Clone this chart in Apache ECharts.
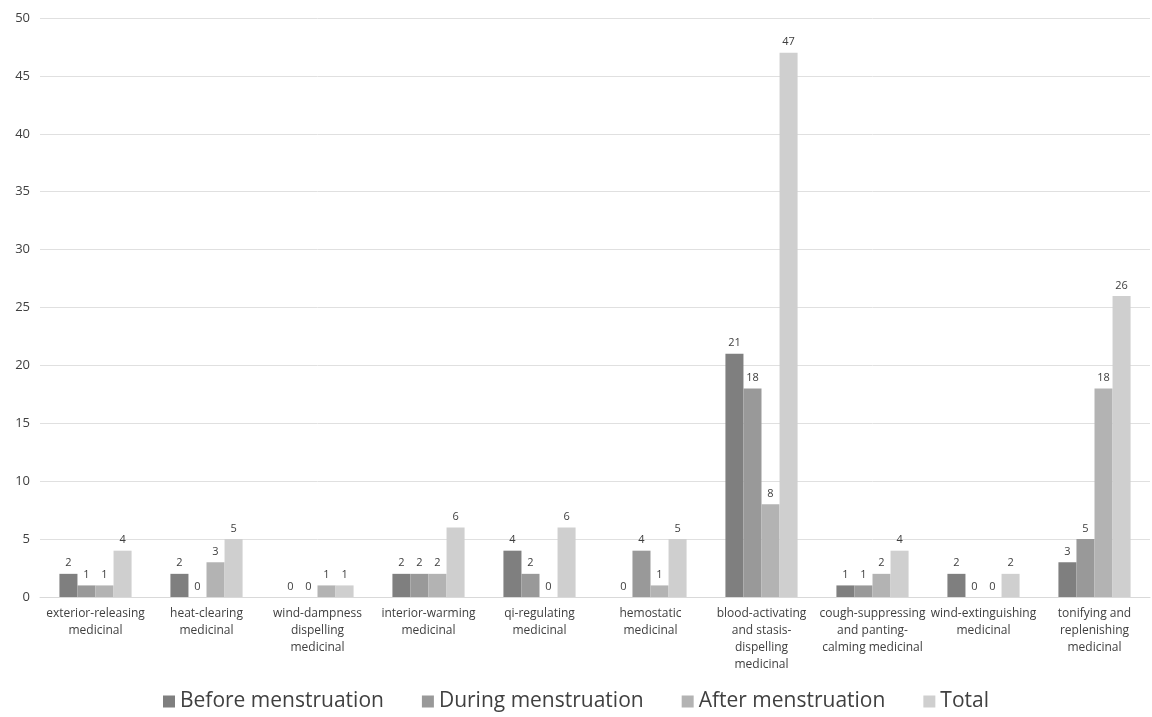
<!DOCTYPE html>
<html><head><meta charset="utf-8">
<script src="https://cdn.jsdelivr.net/npm/echarts@6/dist/echarts.min.js"></script>
<style>html,body{margin:0;padding:0;background:#fff}#c{width:1152px;height:717px}</style>
</head><body><div id="c"></div>
<script>
const categories = ["exterior-releasing\nmedicinal","heat-clearing\nmedicinal","wind-dampness\ndispelling\nmedicinal","interior-warming\nmedicinal","qi-regulating\nmedicinal","hemostatic\nmedicinal","blood-activating\nand stasis-\ndispelling\nmedicinal","cough-suppressing\nand panting-\ncalming medicinal","wind-extinguishing\nmedicinal","tonifying and\nreplenishing\nmedicinal"];
const seriesNames = ["Before menstruation","During menstruation","After menstruation","Total"];
const before = [2,2,0,2,4,0,21,1,2,3];
const during = [1,0,0,2,2,4,18,1,0,5];
const after = [1,3,1,2,0,1,8,2,0,18];
const total = [4,5,1,6,6,5,47,4,2,26];
const colors = ["#7f7f7f","#999999","#b3b3b3","#cfcfcf"];
const yTicks = {min:0,max:50,interval:5};
const font = "'Open Sans', sans-serif";
const chart = echarts.init(document.getElementById('c'));
const mk = (name, data, i) => ({
  name, type:'bar', data, barGap:'0%', barCategoryGap:'35%',
  itemStyle:{color:colors[i]},
  label:{show:true,position:'top',color:'#404040',fontSize:11,fontFamily:font,distance:5},
  animation:false
});
chart.setOption({
  animation:false,
  textStyle:{fontFamily:font},
  grid:{left:40,right:2,top:18,bottom:120,containLabel:false},
  legend:{bottom:0,left:'center',itemWidth:12,itemHeight:12,itemGap:38,icon:'rect',
    textStyle:{fontSize:21,color:'#404040',fontFamily:font},data:seriesNames},
  xAxis:{type:'category',data:categories,
    axisLine:{lineStyle:{color:'#d9d9d9'}},axisTick:{show:false},
    axisLabel:{interval:0,color:'#404040',fontSize:12,lineHeight:17,margin:8,fontFamily:font}},
  yAxis:{type:'value',min:yTicks.min,max:yTicks.max,interval:yTicks.interval,
    axisLine:{show:false},axisTick:{show:false},
    splitLine:{lineStyle:{color:'#e0e0e0'}},
    axisLabel:{color:'#404040',fontSize:13,margin:10,fontFamily:font}},
  series:[mk(seriesNames[0],before,0),mk(seriesNames[1],during,1),mk(seriesNames[2],after,2),mk(seriesNames[3],total,3)]
});
</script></body></html>
